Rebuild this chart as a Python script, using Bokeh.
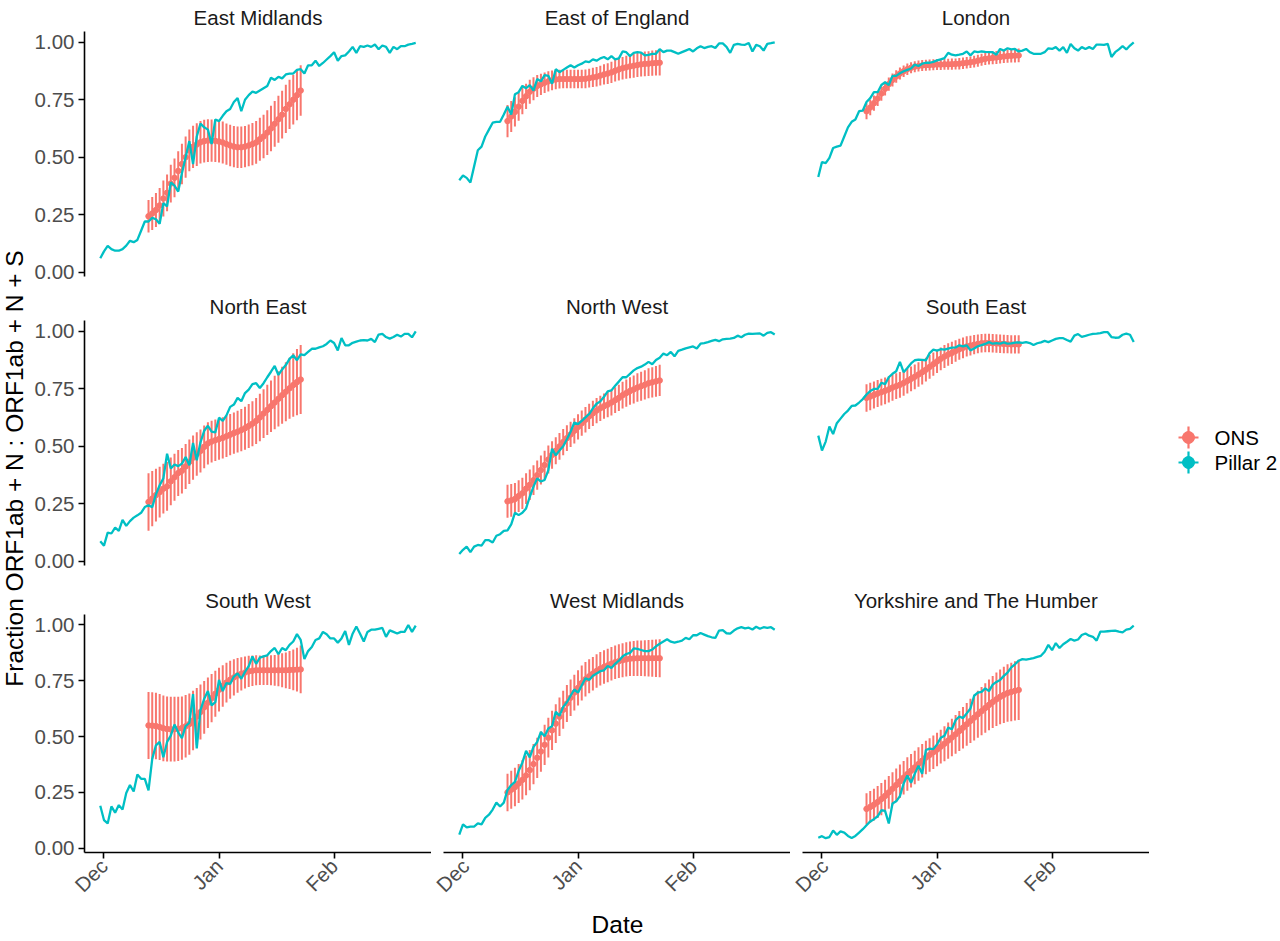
import math
import pandas as pd
from bokeh.plotting import figure
from bokeh.layouts import row, column
from bokeh.models import ColumnDataSource, Range1d, FixedTicker, DatetimeTickFormatter, NumeralTickFormatter
from bokeh.embed import file_html
from bokeh.resources import INLINE
from bokeh.core.properties import value

FONT = "Liberation Sans"
ONS_COLOR = "#F8766D"
P2_COLOR = "#00BFC4"

regions = ["East Midlands", "East of England", "London",
           "North East", "North West", "South East",
           "South West", "West Midlands", "Yorkshire and The Humber"]
series_labels = ["ONS", "Pillar 2"]
month_labels = ["Dec", "Jan", "Feb"]
month_starts = ["2020-12-01", "2021-01-01", "2021-02-01"]
y_ticks = [0.0, 0.25, 0.5, 0.75, 1.0]
x_title = "Date"
y_title = "Fraction ORF1ab + N : ORF1ab + N + S"

pillar_dates = pd.date_range("2020-11-30", "2021-02-23", freq="D")   # 86 days
ons_dates = pd.date_range("2020-12-13", "2021-01-23", freq="D")      # 42 days

# ---------------- Pillar 2 daily fractions ----------------
em_pillar = [0.06, 0.09, 0.114, 0.10, 0.093, 0.093, 0.10, 0.115, 0.136, 0.13,
             0.14, 0.18, 0.22, 0.22, 0.236, 0.23, 0.21, 0.30, 0.286, 0.39,
             0.376, 0.35, 0.43, 0.50, 0.57, 0.47, 0.59, 0.646, 0.63, 0.62,
             0.557, 0.664, 0.657, 0.68, 0.70, 0.71, 0.74, 0.757, 0.70, 0.75,
             0.77, 0.785, 0.78, 0.79, 0.80, 0.81, 0.846, 0.836, 0.85, 0.843,
             0.86, 0.864, 0.864, 0.88, 0.883, 0.864, 0.90, 0.90, 0.92, 0.897,
             0.91, 0.925, 0.94, 0.957, 0.92, 0.94, 0.943, 0.96, 0.98, 0.954,
             0.983, 0.98, 0.986, 0.98, 0.99, 0.97, 0.986, 0.98, 0.954, 0.98,
             0.97, 0.983, 0.983, 0.99, 0.993, 0.997]
eoe_pillar = [0.40, 0.42, 0.41, 0.39, 0.46, 0.53, 0.546, 0.59, 0.62, 0.65,
              0.654, 0.654, 0.686, 0.72, 0.686, 0.774, 0.783, 0.81, 0.80, 0.814,
              0.79, 0.84, 0.83, 0.857, 0.854, 0.82, 0.883, 0.87, 0.88, 0.89,
              0.90, 0.89, 0.90, 0.907, 0.917, 0.914, 0.926, 0.92, 0.93, 0.936,
              0.926, 0.94, 0.926, 0.93, 0.96, 0.957, 0.94, 0.954, 0.957, 0.955,
              0.943, 0.945, 0.95, 0.95, 0.97, 0.957, 0.964, 0.964, 0.957, 0.95,
              0.957, 0.964, 0.971, 0.96, 0.974, 0.983, 0.975, 0.98, 0.983, 0.975,
              0.995, 0.995, 0.98, 0.954, 0.989, 0.993, 0.99, 0.989, 0.997, 0.96,
              0.989, 0.983, 0.964, 0.993, 0.996, 1.0]
lon_pillar = [0.414, 0.479, 0.474, 0.497, 0.54, 0.546, 0.55, 0.59, 0.63, 0.654,
              0.664, 0.70, 0.703, 0.74, 0.757, 0.783, 0.783, 0.814, 0.826, 0.814,
              0.854, 0.854, 0.865, 0.874, 0.88, 0.886, 0.903, 0.897, 0.907, 0.911,
              0.911, 0.915, 0.921, 0.926, 0.931, 0.954, 0.946, 0.943, 0.946, 0.95,
              0.96, 0.943, 0.96, 0.957, 0.96, 0.958, 0.957, 0.957, 0.946, 0.971,
              0.964, 0.974, 0.969, 0.971, 0.96, 0.964, 0.971, 0.957, 0.95, 0.95,
              0.95, 0.957, 0.974, 0.971, 0.979, 0.964, 0.979, 0.954, 0.993, 0.974,
              0.964, 0.979, 0.971, 0.979, 0.971, 0.99, 0.99, 0.989, 0.993, 0.936,
              0.957, 0.969, 0.983, 0.969, 0.986, 1.0]
ne_pillar = [0.086, 0.067, 0.124, 0.12, 0.146, 0.131, 0.179, 0.153, 0.174, 0.189,
             0.199, 0.21, 0.235, 0.243, 0.234, 0.29, 0.33, 0.36, 0.467, 0.403,
             0.42, 0.413, 0.424, 0.453, 0.417, 0.514, 0.439, 0.517, 0.567, 0.589,
             0.563, 0.56, 0.624, 0.61, 0.634, 0.671, 0.681, 0.71, 0.696, 0.731,
             0.746, 0.77, 0.774, 0.753, 0.774, 0.80, 0.824, 0.849, 0.81, 0.834,
             0.853, 0.88, 0.896, 0.874, 0.90, 0.896, 0.91, 0.924, 0.924, 0.93,
             0.935, 0.945, 0.96, 0.949, 0.917, 0.971, 0.939, 0.939, 0.95, 0.955,
             0.96, 0.962, 0.96, 0.967, 0.953, 0.986, 0.989, 0.975, 0.968, 0.975,
             0.985, 0.977, 0.989, 0.989, 0.974, 1.0]
nw_pillar = [0.031, 0.049, 0.063, 0.039, 0.063, 0.07, 0.067, 0.091, 0.091, 0.081,
             0.11, 0.117, 0.131, 0.134, 0.16, 0.21, 0.20, 0.21, 0.229, 0.28,
             0.324, 0.36, 0.346, 0.353, 0.396, 0.489, 0.46, 0.481, 0.50, 0.53,
             0.563, 0.603, 0.596, 0.61, 0.625, 0.64, 0.665, 0.685, 0.695, 0.715,
             0.739, 0.743, 0.763, 0.781, 0.80, 0.80, 0.815, 0.83, 0.84, 0.846,
             0.855, 0.867, 0.857, 0.875, 0.885, 0.903, 0.896, 0.91, 0.891, 0.915,
             0.92, 0.926, 0.93, 0.934, 0.925, 0.946, 0.949, 0.953, 0.958, 0.963,
             0.957, 0.965, 0.967, 0.968, 0.971, 0.981, 0.974, 0.985, 0.99, 0.989,
             0.99, 0.991, 0.981, 0.993, 0.996, 0.986]
se_pillar = [0.546, 0.481, 0.52, 0.586, 0.553, 0.60, 0.62, 0.64, 0.655, 0.675,
             0.677, 0.69, 0.705, 0.725, 0.74, 0.749, 0.749, 0.776, 0.77, 0.80,
             0.815, 0.826, 0.867, 0.822, 0.84, 0.86, 0.874, 0.877, 0.876, 0.874,
             0.905, 0.92, 0.916, 0.922, 0.92, 0.925, 0.929, 0.93, 0.939, 0.934,
             0.939, 0.917, 0.925, 0.935, 0.94, 0.945, 0.953, 0.946, 0.949, 0.946,
             0.952, 0.946, 0.947, 0.951, 0.952, 0.95, 0.953, 0.949, 0.94, 0.948,
             0.952, 0.958, 0.953, 0.96, 0.967, 0.97, 0.97, 0.962, 0.955, 0.981,
             0.988, 0.976, 0.98, 0.985, 0.989, 0.99, 0.992, 0.996, 0.996, 0.975,
             0.972, 0.973, 0.985, 0.99, 0.985, 0.953]
sw_pillar = [0.19, 0.126, 0.111, 0.187, 0.159, 0.193, 0.173, 0.247, 0.283, 0.254,
             0.33, 0.311, 0.311, 0.259, 0.40, 0.461, 0.476, 0.407, 0.476, 0.504,
             0.554, 0.519, 0.493, 0.547, 0.561, 0.69, 0.447, 0.619, 0.669, 0.704,
             0.64, 0.654, 0.754, 0.704, 0.74, 0.736, 0.769, 0.783, 0.759, 0.79,
             0.816, 0.859, 0.826, 0.854, 0.859, 0.864, 0.883, 0.897, 0.869, 0.897,
             0.887, 0.911, 0.926, 0.959, 0.933, 0.847, 0.883, 0.901, 0.933, 0.94,
             0.969, 0.959, 0.94, 0.94, 0.921, 0.94, 0.973, 0.911, 0.961, 0.993,
             0.961, 0.926, 0.969, 0.979, 0.979, 0.983, 0.987, 0.947, 0.976, 0.969,
             0.962, 0.969, 0.969, 1.0, 0.969, 0.997]
wm_pillar = [0.061, 0.107, 0.093, 0.097, 0.097, 0.111, 0.107, 0.136, 0.15, 0.173,
             0.204, 0.187, 0.204, 0.261, 0.283, 0.297, 0.347, 0.383, 0.436, 0.407,
             0.454, 0.476, 0.521, 0.501, 0.536, 0.547, 0.611, 0.593, 0.633, 0.654,
             0.683, 0.711, 0.697, 0.73, 0.761, 0.754, 0.773, 0.783, 0.793, 0.797,
             0.816, 0.807, 0.826, 0.84, 0.859, 0.87, 0.875, 0.895, 0.893, 0.888,
             0.883, 0.883, 0.89, 0.904, 0.916, 0.926, 0.936, 0.925, 0.921, 0.925,
             0.93, 0.942, 0.936, 0.954, 0.954, 0.964, 0.957, 0.95, 0.945, 0.942,
             0.975, 0.977, 0.963, 0.961, 0.975, 0.985, 0.99, 0.985, 0.988, 0.98,
             0.992, 0.983, 0.99, 0.987, 0.99, 0.979]
yh_pillar = [0.047, 0.054, 0.045, 0.05, 0.079, 0.06, 0.075, 0.07, 0.055, 0.046,
             0.055, 0.07, 0.085, 0.103, 0.12, 0.13, 0.143, 0.17, 0.167, 0.111,
             0.20, 0.21, 0.233, 0.29, 0.326, 0.293, 0.333, 0.37, 0.333, 0.44,
             0.446, 0.444, 0.465, 0.495, 0.504, 0.54, 0.533, 0.573, 0.59, 0.583,
             0.604, 0.626, 0.683, 0.697, 0.70, 0.716, 0.704, 0.733, 0.745, 0.754,
             0.772, 0.787, 0.81, 0.824, 0.84, 0.847, 0.845, 0.848, 0.852, 0.857,
             0.862, 0.88, 0.911, 0.887, 0.919, 0.897, 0.914, 0.925, 0.937, 0.93,
             0.935, 0.955, 0.962, 0.952, 0.947, 0.93, 0.97, 0.97, 0.972, 0.974,
             0.975, 0.97, 0.967, 0.979, 0.983, 0.997]

# ---------------- ONS estimates (mid) and CI half-widths ----------------
em_ons = [0.243, 0.255, 0.27, 0.29, 0.32, 0.345, 0.385, 0.41, 0.44, 0.47,
          0.50, 0.53, 0.545, 0.555, 0.565, 0.57, 0.572, 0.572, 0.571, 0.568,
          0.564, 0.557, 0.551, 0.546, 0.543, 0.543, 0.546, 0.551, 0.557, 0.564,
          0.578, 0.59, 0.607, 0.625, 0.645, 0.665, 0.685, 0.71, 0.73, 0.75,
          0.77, 0.79]
em_hw = [0.071, 0.072, 0.074, 0.076, 0.078, 0.08, 0.082, 0.084, 0.086, 0.088,
         0.09, 0.091, 0.092, 0.093, 0.093, 0.093, 0.093, 0.092, 0.092, 0.091,
         0.091, 0.09, 0.09, 0.09, 0.09, 0.09, 0.09, 0.091, 0.092, 0.093,
         0.094, 0.095, 0.097, 0.099, 0.10, 0.102, 0.104, 0.105, 0.107, 0.108,
         0.109, 0.11]
eoe_ons = [0.657, 0.677, 0.697, 0.72, 0.745, 0.765, 0.785, 0.798, 0.81, 0.817,
           0.824, 0.83, 0.834, 0.838, 0.84, 0.84, 0.84, 0.84, 0.84, 0.84,
           0.84, 0.841, 0.844, 0.847, 0.85, 0.855, 0.86, 0.864, 0.869, 0.876,
           0.882, 0.887, 0.891, 0.895, 0.898, 0.901, 0.904, 0.906, 0.907, 0.909,
           0.91, 0.911]
eoe_hw = [0.07, 0.067, 0.064, 0.061, 0.058, 0.055, 0.052, 0.05, 0.048, 0.046,
          0.045, 0.044, 0.043, 0.042, 0.041, 0.04, 0.04, 0.04, 0.04, 0.04,
          0.04, 0.041, 0.041, 0.042, 0.042, 0.043, 0.044, 0.045, 0.046, 0.047,
          0.048, 0.049, 0.05, 0.051, 0.052, 0.052, 0.053, 0.054, 0.054, 0.055,
          0.055, 0.056]
lon_ons = [0.70, 0.716, 0.735, 0.755, 0.777, 0.798, 0.818, 0.836, 0.851, 0.864,
           0.874, 0.883, 0.889, 0.894, 0.897, 0.899, 0.90, 0.901, 0.902, 0.903,
           0.903, 0.904, 0.904, 0.905, 0.906, 0.907, 0.909, 0.911, 0.913, 0.916,
           0.92, 0.924, 0.928, 0.93, 0.932, 0.934, 0.936, 0.938, 0.94, 0.941,
           0.942, 0.943]
lon_hw = [0.035, 0.034, 0.033, 0.032, 0.031, 0.03, 0.029, 0.028, 0.027, 0.026,
          0.025, 0.025, 0.024, 0.024, 0.024, 0.024, 0.024, 0.024, 0.024, 0.024,
          0.024, 0.024, 0.024, 0.024, 0.024, 0.025, 0.025, 0.025, 0.025, 0.026,
          0.026, 0.026, 0.027, 0.027, 0.027, 0.028, 0.028, 0.028, 0.029, 0.029,
          0.03, 0.03]
ne_ons = [0.257, 0.272, 0.287, 0.30, 0.315, 0.325, 0.347, 0.365, 0.383, 0.393,
          0.412, 0.432, 0.45, 0.466, 0.479, 0.497, 0.512, 0.52, 0.526, 0.531,
          0.536, 0.543, 0.55, 0.557, 0.563, 0.57, 0.578, 0.588, 0.598, 0.61,
          0.625, 0.642, 0.658, 0.674, 0.69, 0.706, 0.722, 0.737, 0.752, 0.766,
          0.779, 0.79]
ne_hw = [0.125, 0.12, 0.115, 0.11, 0.108, 0.106, 0.104, 0.102, 0.10, 0.099,
         0.098, 0.097, 0.096, 0.095, 0.094, 0.093, 0.092, 0.091, 0.09, 0.09,
         0.09, 0.09, 0.09, 0.09, 0.091, 0.092, 0.094, 0.096, 0.098, 0.10,
         0.103, 0.106, 0.109, 0.112, 0.116, 0.12, 0.124, 0.128, 0.133, 0.138,
         0.144, 0.15]
nw_ons = [0.26, 0.264, 0.27, 0.283, 0.295, 0.315, 0.332, 0.352, 0.374, 0.396,
          0.418, 0.442, 0.462, 0.48, 0.499, 0.518, 0.535, 0.551, 0.567, 0.584,
          0.60, 0.615, 0.63, 0.643, 0.655, 0.665, 0.674, 0.681, 0.69, 0.70,
          0.71, 0.722, 0.731, 0.74, 0.747, 0.755, 0.761, 0.767, 0.774, 0.778,
          0.782, 0.786]
nw_hw = [0.072, 0.071, 0.07, 0.069, 0.068, 0.067, 0.066, 0.065, 0.064, 0.063,
         0.062, 0.061, 0.06, 0.059, 0.058, 0.057, 0.056, 0.055, 0.055, 0.055,
         0.055, 0.055, 0.055, 0.055, 0.055, 0.055, 0.055, 0.055, 0.056, 0.056,
         0.057, 0.058, 0.059, 0.06, 0.061, 0.062, 0.063, 0.064, 0.065, 0.066,
         0.067, 0.068]
se_ons = [0.71, 0.716, 0.723, 0.729, 0.735, 0.741, 0.747, 0.755, 0.761, 0.767,
          0.775, 0.784, 0.793, 0.802, 0.812, 0.822, 0.833, 0.845, 0.857, 0.869,
          0.88, 0.89, 0.899, 0.906, 0.914, 0.922, 0.928, 0.934, 0.938, 0.942,
          0.945, 0.948, 0.949, 0.949, 0.948, 0.947, 0.946, 0.945, 0.944, 0.943,
          0.943, 0.943]
se_hw = [0.06, 0.06, 0.059, 0.059, 0.058, 0.058, 0.057, 0.057, 0.056, 0.056,
         0.055, 0.055, 0.054, 0.054, 0.053, 0.053, 0.052, 0.052, 0.051, 0.051,
         0.05, 0.05, 0.049, 0.048, 0.047, 0.046, 0.045, 0.044, 0.043, 0.042,
         0.041, 0.04, 0.04, 0.04, 0.04, 0.04, 0.04, 0.04, 0.04, 0.04,
         0.04, 0.04]
sw_ons = [0.55, 0.549, 0.547, 0.543, 0.537, 0.534, 0.533, 0.533, 0.535, 0.538,
          0.546, 0.556, 0.572, 0.59, 0.61, 0.631, 0.652, 0.672, 0.692, 0.71,
          0.727, 0.742, 0.755, 0.765, 0.774, 0.781, 0.787, 0.792, 0.795, 0.797,
          0.797, 0.797, 0.797, 0.797, 0.797, 0.797, 0.797, 0.797, 0.798, 0.799,
          0.80, 0.801]
sw_hw = [0.15, 0.15, 0.149, 0.148, 0.147, 0.146, 0.145, 0.145, 0.144, 0.142,
         0.14, 0.137, 0.133, 0.128, 0.123, 0.118, 0.113, 0.108, 0.103, 0.098,
         0.093, 0.089, 0.085, 0.081, 0.078, 0.075, 0.072, 0.07, 0.068, 0.067,
         0.066, 0.066, 0.066, 0.067, 0.069, 0.072, 0.076, 0.08, 0.085, 0.091,
         0.098, 0.107]
wm_ons = [0.25, 0.262, 0.274, 0.29, 0.306, 0.326, 0.35, 0.377, 0.405, 0.433,
          0.463, 0.495, 0.528, 0.558, 0.589, 0.62, 0.648, 0.674, 0.697, 0.718,
          0.74, 0.757, 0.77, 0.782, 0.794, 0.804, 0.812, 0.819, 0.826, 0.833,
          0.838, 0.842, 0.846, 0.849, 0.85, 0.851, 0.851, 0.851, 0.851, 0.851,
          0.851, 0.851]
wm_hw = [0.084, 0.085, 0.086, 0.087, 0.088, 0.089, 0.09, 0.09, 0.09, 0.09,
         0.09, 0.089, 0.088, 0.087, 0.086, 0.085, 0.083, 0.082, 0.08, 0.079,
         0.078, 0.077, 0.076, 0.075, 0.075, 0.075, 0.075, 0.075, 0.075, 0.075,
         0.076, 0.076, 0.077, 0.077, 0.078, 0.079, 0.08, 0.081, 0.082, 0.083,
         0.084, 0.085]
yh_ons = [0.176, 0.185, 0.195, 0.207, 0.22, 0.234, 0.25, 0.266, 0.283, 0.30,
          0.316, 0.332, 0.347, 0.362, 0.377, 0.392, 0.406, 0.418, 0.43, 0.442,
          0.455, 0.468, 0.482, 0.496, 0.51, 0.525, 0.54, 0.555, 0.57, 0.585,
          0.60, 0.614, 0.628, 0.642, 0.655, 0.667, 0.678, 0.687, 0.695, 0.70,
          0.705, 0.709]
yh_hw = [0.07, 0.071, 0.071, 0.072, 0.072, 0.073, 0.073, 0.074, 0.074, 0.075,
         0.075, 0.075, 0.075, 0.075, 0.075, 0.075, 0.075, 0.075, 0.075, 0.075,
         0.076, 0.078, 0.081, 0.084, 0.087, 0.09, 0.093, 0.096, 0.099, 0.102,
         0.105, 0.108, 0.111, 0.114, 0.117, 0.12, 0.123, 0.126, 0.129, 0.131,
         0.133, 0.135]

pillar_vals = dict(zip(regions, [em_pillar, eoe_pillar, lon_pillar, ne_pillar, nw_pillar,
                                 se_pillar, sw_pillar, wm_pillar, yh_pillar]))
ons_vals = dict(zip(regions, [em_ons, eoe_ons, lon_ons, ne_ons, nw_ons,
                              se_ons, sw_ons, wm_ons, yh_ons]))
ons_halfwidth = dict(zip(regions, [em_hw, eoe_hw, lon_hw, ne_hw, nw_hw,
                                   se_hw, sw_hw, wm_hw, yh_hw]))

# ---------------- layout constants (page origin is 0,0) ----------------
FW, FH = 347, 245
TB = 31
GB = [13, 18, 48]          # bottom border per facet row
LB_LEFT, LB_OTHER = 56, 12
DATE_H = 33
YLAB_W = 28
LEG_W = 130
SMALL = "20.5px"
BIG = "24.5px"

epoch = pd.Timestamp("1970-01-01")
tick_ms = [(pd.Timestamp(d) - epoch).total_seconds() * 1000.0 for d in month_starts]
DAY = 86400000.0
x_start = tick_ms[0] - 5.25 * DAY
x_end = x_start + 93.5 * DAY
y_start, y_end = -0.0193, 1.047


def style_axis(ax):
    ax.axis_line_color = "black"
    ax.axis_line_width = 1.6
    ax.major_tick_line_color = "black"
    ax.major_tick_line_width = 1.6
    ax.major_tick_out = 6
    ax.major_tick_in = 0
    ax.minor_tick_line_color = None
    ax.major_label_text_font = FONT
    ax.major_label_text_font_size = SMALL
    ax.major_label_text_color = "#4D4D4D"
    ax.major_label_standoff = 4


def make_panel(i, region):
    r, c = divmod(i, 3)
    bottom = r == 2
    left = c == 0
    lb = LB_LEFT if left else LB_OTHER
    bb = GB[r]
    p = figure(width=lb + FW, height=TB + FH + bb, title=region,
               x_axis_type="datetime",
               x_range=Range1d(x_start, x_end), y_range=Range1d(y_start, y_end),
               x_axis_location="below" if bottom else None,
               y_axis_location="left" if left else None,
               output_backend="svg", toolbar_location=None, tools="",
               min_border_left=lb, min_border_right=0,
               min_border_top=TB, min_border_bottom=bb)
    p.outline_line_color = None
    p.background_fill_color = "white"
    p.border_fill_color = "white"
    p.xgrid.visible = False
    p.ygrid.visible = False
    p.title.text_font = FONT
    p.title.text_font_size = SMALL
    p.title.text_font_style = "normal"
    p.title.text_color = "#1A1A1A"
    p.title.align = "center"
    p.title.standoff = 5
    if bottom:
        ax = p.xaxis[0]
        style_axis(ax)
        ax.ticker = FixedTicker(ticks=tick_ms)
        ax.formatter = DatetimeTickFormatter(days="%b", months="%b", years="%b")
        ax.major_label_overrides = {t: lab for t, lab in zip(tick_ms, month_labels)}
        ax.major_label_orientation = math.pi / 4
    if left:
        ax = p.yaxis[0]
        style_axis(ax)
        ax.ticker = FixedTicker(ticks=y_ticks)
        ax.formatter = NumeralTickFormatter(format="0.00")

    mid = ons_vals[region]
    hw = ons_halfwidth[region]
    ons_src = ColumnDataSource(dict(date=ons_dates, mid=mid,
                                    lo=[m - h for m, h in zip(mid, hw)],
                                    hi=[m + h for m, h in zip(mid, hw)]))
    p.segment(x0="date", y0="lo", x1="date", y1="hi", source=ons_src,
              line_color=ONS_COLOR, line_width=2)
    p.scatter(x="date", y="mid", source=ons_src, size=5.5, marker="circle",
              fill_color=ONS_COLOR, line_color=ONS_COLOR)
    p2_src = ColumnDataSource(dict(date=pillar_dates, val=pillar_vals[region]))
    p.line(x="date", y="val", source=p2_src, line_color=P2_COLOR, line_width=2.3)
    return p


panels = [make_panel(i, reg) for i, reg in enumerate(regions)]
TOTAL_H = sum(TB + FH + g for g in GB) + DATE_H
GRID_W = (LB_LEFT + FW) + 2 * (LB_OTHER + FW)


def blank_fig(w, h):
    f = figure(width=w, height=h, x_range=Range1d(0, w), y_range=Range1d(0, h),
               x_axis_location=None, y_axis_location=None,
               output_backend="svg", toolbar_location=None, tools="",
               min_border=0)
    f.outline_line_color = None
    f.xgrid.visible = False
    f.ygrid.visible = False
    f.background_fill_color = "white"
    f.border_fill_color = "white"
    return f


# y-axis title (page y of its centre: 468)
ylab = blank_fig(YLAB_W, TOTAL_H)
ylab.text(x=[14], y=[TOTAL_H - 468], text=[y_title], angle=math.pi / 2,
          text_align="center", text_baseline="middle",
          text_font=value(FONT), text_font_size=BIG, text_color="black")

# x-axis title (page centre x 617, y 924)
date_fig = blank_fig(GRID_W, DATE_H)
date_top = TOTAL_H - DATE_H
date_fig.text(x=[617 - YLAB_W], y=[DATE_H - (924 - date_top)], text=[x_title],
              text_align="center", text_baseline="middle",
              text_font=value(FONT), text_font_size=BIG, text_color="black")

# legend (page keys at x 1188, y 437 / 462)
leg = blank_fig(LEG_W, TOTAL_H)
leg_x0 = YLAB_W + GRID_W
leg_colors = [ONS_COLOR, P2_COLOR]
key_x = 1188 - leg_x0
key_y = [TOTAL_H - 437, TOTAL_H - 462]
leg_src = ColumnDataSource(dict(x=[key_x] * 2, y=key_y,
                                xl=[key_x - 10] * 2, xr=[key_x + 10] * 2,
                                yb=[v - 11 for v in key_y], yt=[v + 11 for v in key_y],
                                tx=[key_x + 26] * 2, color=leg_colors, label=series_labels))
leg.segment(x0="xl", y0="y", x1="xr", y1="y", source=leg_src, line_color="color", line_width=2.2)
leg.segment(x0="x", y0="yb", x1="x", y1="yt", source=leg_src, line_color="color", line_width=2.2)
leg.scatter(x="x", y="y", source=leg_src, size=12, marker="circle",
            fill_color="color", line_color="color")
leg.text(x="tx", y="y", text="label", source=leg_src, text_align="left", text_baseline="middle",
         text_font=value(FONT), text_font_size=SMALL, text_color="black")

grid = column(row(*panels[0:3]), row(*panels[3:6]), row(*panels[6:9]), date_fig)
layout = row(ylab, grid, leg)

open("out.html", "w").write(file_html(layout, INLINE))
